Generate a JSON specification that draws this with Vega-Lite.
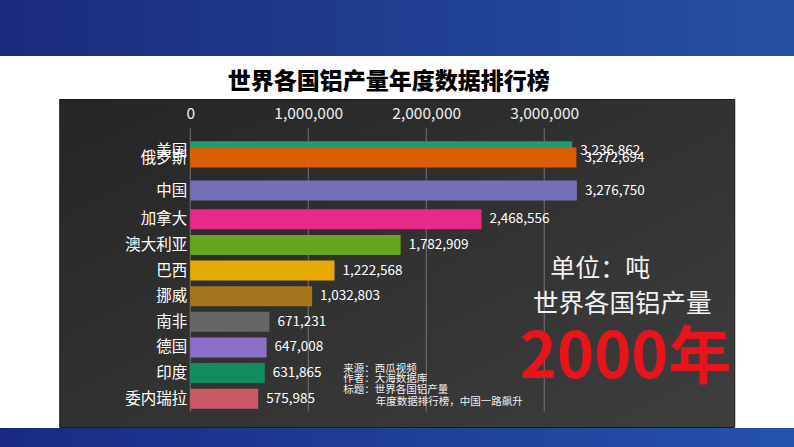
{
  "$schema": "https://vega.github.io/schema/vega-lite/v6.json",
  "background": "white",
  "padding": 0,
  "spacing": 0,
  "center": true,
  "config": {"font": "Noto Sans CJK SC", "view": {"stroke": null}},
  "datasets": {
    "bars": [
      {"country": "美国", "value": 3236862, "rank": 1.34},
      {"country": "俄罗斯", "value": 3272694, "rank": 1.59},
      {"country": "中国", "value": 3276750, "rank": 2.876},
      {"country": "加拿大", "value": 2468556, "rank": 4},
      {"country": "澳大利亚", "value": 1782909, "rank": 5},
      {"country": "巴西", "value": 1222568, "rank": 6},
      {"country": "挪威", "value": 1032803, "rank": 7},
      {"country": "南非", "value": 671231, "rank": 8},
      {"country": "德国", "value": 647008, "rank": 9},
      {"country": "印度", "value": 631865, "rank": 10},
      {"country": "委内瑞拉", "value": 575985, "rank": 11}
    ],
    "grid": [{"v": 0}, {"v": 1000000}, {"v": 2000000}, {"v": 3000000}],
    "one": [{}]
  },
  "vconcat": [
    {
      "width": 794,
      "height": 56,
      "data": {"name": "one"},
      "mark": {"type": "text", "text": ""},
      "encoding": {},
      "view": {"stroke": null, "fill": {"gradient": "linear", "x1": 0, "y1": 0, "x2": 1, "y2": 0, "stops": [{"offset": 0, "color": "#1b2a7e"}, {"offset": 1, "color": "#2551a3"}]}}
    },
    {
      "width": 675,
      "height": 328,
      "title": {"text": ["", "世界各国铝产量年度数据排行榜"], "fontSize": 23, "fontWeight": 900, "color": "#000000", "lineHeight": 14, "offset": 5, "anchor": "middle", "dx": -8},
      "view": {"stroke": "#1a1a1a", "strokeWidth": 1, "fill": {"gradient": "linear", "x1": 0, "y1": 0, "x2": 1, "y2": 1, "stops": [{"offset": 0, "color": "#252525"}, {"offset": 1, "color": "#3e3e3e"}]}},
      "data": {"name": "bars"},
      "layer": [
        {
          "data": {"name": "grid"},
          "mark": {"type": "rule", "color": "#8a8a8a", "strokeWidth": 1, "opacity": 0.75},
          "encoding": {
            "x": {"field": "v", "type": "quantitative",
              "scale": {"domain": [-1110200, 4610200], "nice": false, "zero": false},
              "axis": {"orient": "top", "values": [0, 1000000, 2000000, 3000000], "format": ",d", "grid": false, "domain": false, "ticks": false, "labelColor": "#eeeeee", "labelFontSize": 15.5, "labelPadding": 3, "offset": -25, "title": null, "labelFlush": false, "labelOverlap": false}},
            "y": {"datum": 0.45, "type": "quantitative", "axis": null},
            "y2": {"datum": 11.5}
          }
        },
        {
          "mark": {"type": "bar", "orient": "horizontal", "size": 20},
          "encoding": {
            "x": {"field": "value", "type": "quantitative", "stack": null, "title": null},
            "y": {"field": "rank", "type": "quantitative", "scale": {"domain": [-0.5025, 11.908], "reverse": true, "nice": false, "zero": false}, "axis": null},
            "color": {"field": "country", "type": "nominal", "legend": null,
              "scale": {"domain": ["美国", "俄罗斯", "中国", "加拿大", "澳大利亚", "巴西", "挪威", "南非", "德国", "印度", "委内瑞拉"],
                "range": ["#1b9e77", "#d95f02", "#7570b3", "#e7298a", "#66a61e", "#e6ab02", "#a6761d", "#666666", "#8b6fc9", "#138d5f", "#c85a64"]}}
          }
        },
        {
          "mark": {"type": "text", "align": "right", "baseline": "middle", "dx": -3, "fontSize": 15.5, "color": "#ffffff"},
          "encoding": {
            "x": {"datum": 0, "type": "quantitative"},
            "y": {"field": "rank", "type": "quantitative", "axis": null},
            "text": {"field": "country"}
          }
        },
        {
          "mark": {"type": "text", "align": "left", "baseline": "middle", "dx": 8, "fontSize": 13.5, "color": "#ffffff"},
          "encoding": {
            "x": {"field": "value", "type": "quantitative", "title": null},
            "y": {"field": "rank", "type": "quantitative", "axis": null},
            "text": {"field": "value", "type": "quantitative", "format": ",d"}
          }
        },
        {
          "data": {"name": "one"},
          "mark": {"type": "text", "text": "单位：吨", "align": "center", "baseline": "middle", "fontSize": 25, "color": "#f2f2f2"},
          "encoding": {
            "x": {"datum": 3475000, "type": "quantitative"},
            "y": {"datum": 5.93, "type": "quantitative", "axis": null}
          }
        },
        {
          "data": {"name": "one"},
          "mark": {"type": "text", "text": "世界各国铝产量", "align": "center", "baseline": "middle", "fontSize": 25.5, "color": "#f2f2f2"},
          "encoding": {
            "x": {"datum": 3661000, "type": "quantitative"},
            "y": {"datum": 7.29, "type": "quantitative", "axis": null}
          }
        },
        {
          "data": {"name": "one"},
          "mark": {"type": "text", "text": "2000年", "align": "center", "baseline": "middle", "fontSize": 63, "fontWeight": "bold", "color": "#e8141b"},
          "encoding": {
            "x": {"datum": 3690000, "type": "quantitative"},
            "y": {"datum": 9.43, "type": "quantitative", "axis": null}
          }
        },
        {
          "data": {"name": "one"},
          "mark": {"type": "text", "text": ["来源：西瓜视频", "作者：大海数据库", "标题：世界各国铝产量"], "align": "left", "baseline": "top", "fontSize": 10.5, "lineHeight": 10.6, "color": "#f0f0f0"},
          "encoding": {
            "x": {"datum": 1297000, "type": "quantitative"},
            "y": {"datum": 9.64, "type": "quantitative", "axis": null}
          }
        },
        {
          "data": {"name": "one"},
          "mark": {"type": "text", "text": "年度数据排行榜，中国一路飙升", "align": "left", "baseline": "middle", "fontSize": 10.5, "color": "#f0f0f0"},
          "encoding": {
            "x": {"datum": 1572000, "type": "quantitative"},
            "y": {"datum": 11.113, "type": "quantitative", "axis": null}
          }
        }
      ]
    },
    {
      "width": 794,
      "height": 21,
      "data": {"name": "one"},
      "mark": {"type": "text", "text": ""},
      "encoding": {},
      "view": {"stroke": null, "fill": {"gradient": "linear", "x1": 0, "y1": 0, "x2": 1, "y2": 0, "stops": [{"offset": 0, "color": "#1a2a84"}, {"offset": 1, "color": "#2452aa"}]}}
    }
  ]
}
